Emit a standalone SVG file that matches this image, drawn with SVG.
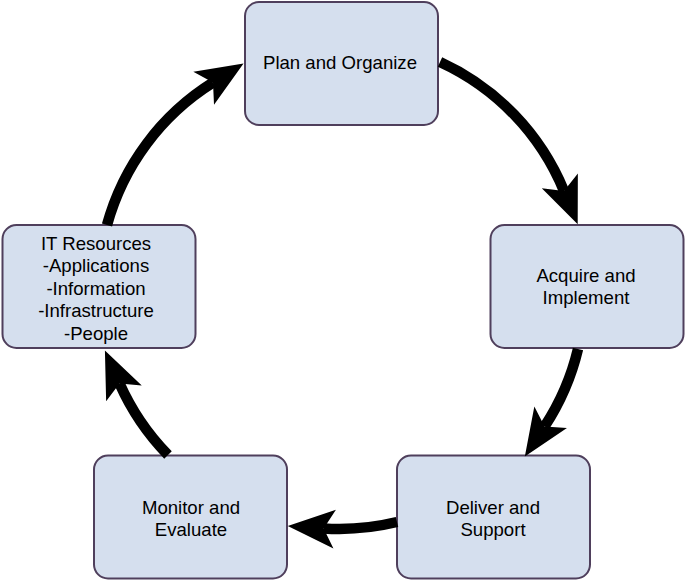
<svg xmlns="http://www.w3.org/2000/svg" width="685" height="581" viewBox="0 0 685 581">
<style>
.box{fill:#d5dfee;stroke:#4f3f5c;stroke-width:2}
.lbl{font-family:"Liberation Sans",Arial,sans-serif;font-size:18.6px;fill:#000;text-anchor:middle}
.arc{fill:none;stroke:#000;stroke-width:10.5}
</style>
<defs>
<marker id="head" markerUnits="userSpaceOnUse" viewBox="-12 -21 50 42" refX="0" refY="0" markerWidth="50" markerHeight="42" orient="auto" overflow="visible">
<path d="M36,0 L-11,-19.5 L0,0 L-11,19.5 Z" fill="#000"/>
</marker>
</defs>
<rect width="685" height="581" fill="#fff"/>
<g id="plan"><rect class="box" x="245" y="2" width="193" height="123" rx="14"/><text class="lbl" x="340" y="68.5">Plan and Organize</text></g>
<g id="acquire"><rect class="box" x="490.5" y="225" width="193" height="123" rx="14"/><text class="lbl" x="586" y="281.5">Acquire and</text><text class="lbl" x="586" y="303.5">Implement</text></g>
<g id="deliver"><rect class="box" x="397" y="455.5" width="193" height="123" rx="14"/><text class="lbl" x="493" y="513.5">Deliver and</text><text class="lbl" x="493" y="535.5">Support</text></g>
<g id="monitor"><rect class="box" x="94" y="455.5" width="193" height="123" rx="14"/><text class="lbl" x="191" y="513.5">Monitor and</text><text class="lbl" x="191" y="535.5">Evaluate</text></g>
<g id="resources"><rect class="box" x="2.5" y="225" width="193" height="123" rx="14"/><text class="lbl" x="96" y="249.5">IT Resources</text><text class="lbl" x="96" y="272">-Applications</text><text class="lbl" x="96" y="294.5">-Information</text><text class="lbl" x="96" y="317">-Infrastructure</text><text class="lbl" x="96" y="339.5">-People</text></g>
<g id="connectors">
<path class="arc" marker-end="url(#head)" d="M440,62 A244,244 0 0 1 564,191"/>
<path class="arc" marker-end="url(#head)" d="M578,349 A244,244 0 0 1 544.6,426.4"/>
<path class="arc" marker-end="url(#head)" d="M397,522 A244,244 0 0 1 323.7,528.4"/>
<path class="arc" marker-end="url(#head)" d="M168,455 A244,244 0 0 1 119.5,383.4"/>
<path class="arc" marker-end="url(#head)" d="M107,225 A244,244 0 0 1 213,82.5"/>
</g>
</svg>
